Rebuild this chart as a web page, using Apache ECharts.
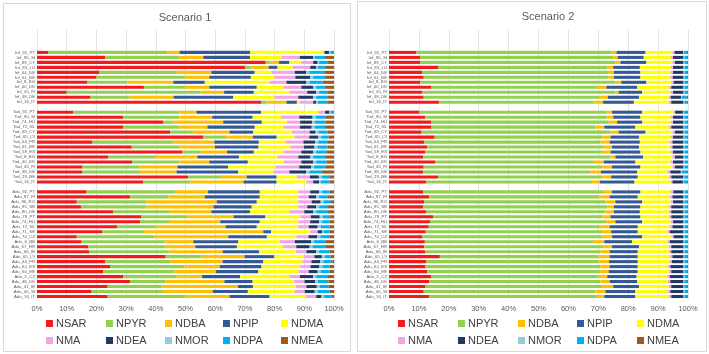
<!DOCTYPE html>
<html>
<head>
<meta charset="utf-8">
<script src="https://cdn.jsdelivr.net/npm/echarts@6/dist/echarts.min.js"></script>
<style>
  html, body { margin: 0; padding: 0; background: #fff; }
  #chart { width: 709px; height: 354px; }
</style>
</head>
<body>
<div id="chart"></div>
<script>
const seriesNames = ['NSAR', 'NPYR', 'NDBA', 'NPIP', 'NDMA', 'NMA', 'NDEA', 'NMOR', 'NDPA', 'NMEA'];
const colors = ['#F21A1A', '#92D050', '#FFC000', '#335A96', '#FFFF00', '#F4A3E8', '#203864', '#92CDDC', '#00B0F0', '#9C5A1E'];

const infCats = ['Inf_92_PT', 'Inf_90_SI', 'Inf_89_CY', 'Inf_83_LU', 'Inf_64_DE', 'Inf_61_EE', 'Inf_8_BG', 'Inf_40_DK', 'Inf_45_FI', 'Inf_38_DE', 'Inf_16_IT'];
const todCats = ['Tod_92_PT', 'Tod_90_SI', 'Tod_74_HU', 'Tod_72_NL', 'Tod_69_CY', 'Tod_65_LV', 'Tod_64_FR', 'Tod_61_EE', 'Tod_59_ES', 'Tod_8_BG', 'Tod_40_DK', 'Tod_45_FI', 'Tod_38_DE', 'Tod_29_BE', 'Tod_16_IT'];
const aduCats = ['Adu_92_PT', 'Adu_87_FI', 'Adu_86_RO', 'Adu_85_SE', 'Adu_80_DE', 'Adu_78_PT', 'Adu_74_HU', 'Adu_72_NL', 'Adu_71_SE', 'Adu_70_CZ', 'Adu_6_BE', 'Adu_67_HR', 'Adu_66_IE', 'Adu_65_LV', 'Adu_64_FR', 'Adu_62_ES', 'Adu_60_EE', 'Adu_5_CZ', 'Adu_48_DK', 'Adu_41_IE', 'Adu_40_SI', 'Adu_16_IT'];

// one row per category, values in seriesNames order (% of total)
const s1Inf = [
  [3.8, 40.2, 4, 23.7, 24.8, 0.3, 1.5, 0.5, 1, 0.2],
  [23, 25, 8, 15.7, 10.7, 6.1, 4.5, 0.5, 3.5, 3],
  [77, 1.5, 3, 3.5, 4, 4, 1.5, 0.5, 3, 2],
  [70, 2, 6, 3, 5, 6, 2, 0.5, 2.5, 3],
  [21, 26, 11.7, 14.6, 5.6, 7.9, 3.9, 1, 5, 3.3],
  [20, 30, 8, 14, 8, 7, 5, 1, 4, 3],
  [17, 13.5, 15.4, 10.6, 21.8, 5.7, 6.7, 1, 4.5, 3.8],
  [36, 14, 8, 16, 9, 6, 4, 1, 3, 3],
  [10, 45, 8, 10, 12, 6, 3, 1, 3, 2],
  [18, 13, 15, 20, 14, 8, 5, 1, 4, 2],
  [75.6, 1.7, 6.7, 3.5, 1, 4.5, 1, 0.5, 3.5, 2]
];
const s1Tod = [
  [12.2, 35.8, 5.7, 21.8, 19.3, 2.2, 1.5, 0.5, 1, 0],
  [29, 19, 11, 13.6, 9.5, 6.2, 4.5, 1, 3.5, 2.7],
  [42.5, 3.5, 16.7, 13, 8.4, 4.5, 4, 1, 3.5, 2.9],
  [29, 19, 9.4, 15.9, 9.6, 5.6, 4, 1, 3.5, 3],
  [44.8, 8, 12, 8, 13, 6, 2, 1, 3, 2.2],
  [56, 7.7, 9, 8, 6, 5, 3, 1, 2.5, 1.8],
  [18.7, 27, 14, 15, 9, 6, 4, 1, 3, 2.3],
  [31.9, 16, 12, 14.7, 10.8, 4.5, 3.5, 1, 3.5, 2.1],
  [49, 6, 9, 9, 10, 6, 4, 1, 3.5, 2.5],
  [24, 16, 14, 14, 13, 7, 4, 1, 4, 3],
  [32, 16, 10, 13, 12, 6, 4, 1, 3.5, 2.5],
  [15.3, 19, 13, 17, 16, 8, 4, 1, 4, 2.7],
  [15.3, 19.4, 12.3, 20.8, 11.8, 5.4, 5.7, 1, 4.3, 4],
  [50.9, 11, 8.7, 10.1, 6.7, 4.5, 3, 1, 2.5, 1.6],
  [35.7, 16, 17.8, 11.2, 10, 2.3, 2, 0.5, 3, 1.5]
];
const s1Adu = [
  [16.7, 29.8, 11.1, 17.4, 13, 4, 3, 1, 2.5, 1.5],
  [31.3, 13, 12.2, 18.5, 13, 3.5, 2.5, 1, 3, 2],
  [13.4, 23.5, 23.6, 13.5, 14, 4.5, 3, 1, 2.5, 1],
  [14.8, 22.1, 22.5, 12.9, 15.7, 3, 3, 1, 3, 2],
  [25.7, 19, 14, 13, 13.3, 5, 3, 1, 4, 2],
  [35.2, 15, 16, 10.7, 11.8, 3.5, 3, 1, 2.5, 1.3],
  [34.7, 10, 17, 13.3, 13, 4, 3, 1, 2.5, 1.5],
  [27, 13, 23.5, 10.5, 14, 3.5, 3, 1, 3, 1.5],
  [22, 14, 40.2, 2.6, 13.2, 2.5, 1.5, 0.5, 2, 1.5],
  [13.4, 26, 25, 13, 10, 4, 3, 1, 3, 1.6],
  [15, 28, 9.6, 15.2, 14, 5, 5.5, 1, 4, 2.7],
  [17.3, 26, 10, 14, 15.5, 4.5, 4.5, 1, 4.5, 2.7],
  [17.5, 27, 18, 12.3, 12.4, 3.5, 3.3, 1, 3.5, 1.5],
  [43.3, 12, 14.6, 10, 10, 3.5, 2.5, 1, 2, 1.1],
  [23, 22, 17.5, 13.7, 13.2, 3, 3, 1, 3, 0.6],
  [24.6, 25, 12, 14, 13, 3.5, 3, 1, 2.5, 1.4],
  [22.3, 24, 14, 14.2, 13.5, 3.5, 3, 1, 3, 1.5],
  [29, 18, 8.6, 12.8, 16.6, 3.5, 4.5, 1, 4, 2],
  [31.3, 12, 19.8, 9.5, 14, 3.5, 3.5, 1, 3.5, 1.9],
  [23.8, 18, 25.9, 5, 14.5, 3.5, 3.5, 1, 3, 1.8],
  [18.4, 24, 16.8, 11.8, 15.7, 3.5, 3.3, 1, 4, 1.5],
  [23.8, 26, 15, 13.5, 12.3, 3.4, 1.7, 1, 2.5, 0.8]
];

const s2Inf = [
  [9.2, 65.2, 1.7, 9.7, 9.0, 0.7, 2.9, 0.3, 1.0, 0.3],
  [10.5, 64.5, 1.5, 8.7, 9.0, 0.8, 3.5, 0.3, 0.9, 0.3],
  [10.5, 65.2, 1.7, 8.7, 8.7, 0.8, 2.9, 0.3, 0.9, 0.3],
  [16.4, 56.6, 2.0, 8.9, 10.3, 0.8, 3.5, 0.3, 0.9, 0.3],
  [11.1, 62.1, 2.0, 8.9, 10.1, 0.8, 3.5, 0.3, 0.9, 0.3],
  [11.6, 61.9, 1.7, 8.9, 9.9, 0.9, 3.6, 0.3, 0.9, 0.3],
  [10.5, 65.2, 2.0, 8.4, 8.3, 0.8, 3.3, 0.3, 0.9, 0.3],
  [14.2, 55.4, 3.1, 10.3, 10.6, 0.8, 4.1, 0.3, 0.9, 0.3],
  [11.2, 64.5, 1.1, 7.9, 9.5, 0.8, 3.5, 0.3, 0.9, 0.3],
  [11.6, 58.9, 2.7, 10.4, 10.0, 0.6, 3.5, 0.3, 1.5, 0.5],
  [16.7, 51.8, 3.1, 10.3, 11.7, 0.8, 4.1, 0.3, 0.9, 0.3]
];
const s2Tod = [
  [10.1, 62.6, 1.9, 10.1, 10.6, 0.4, 2.6, 0.3, 1.1, 0.3],
  [12.1, 60.9, 2.0, 9.1, 10.1, 0.8, 3.5, 0.3, 0.9, 0.3],
  [14.1, 59.4, 2.8, 8.4, 9.5, 0.8, 3.5, 0.3, 0.9, 0.3],
  [14.2, 54.8, 3.0, 10.4, 11.2, 0.8, 4.1, 0.3, 0.9, 0.3],
  [10.9, 63.2, 2.7, 9.0, 9.0, 0.8, 2.9, 0.3, 0.9, 0.3],
  [15.3, 56.0, 2.8, 9.5, 10.6, 0.8, 3.5, 0.3, 0.9, 0.3],
  [11.8, 58.9, 3.1, 10.1, 10.1, 0.8, 3.7, 0.3, 0.9, 0.3],
  [12.8, 58.8, 3.0, 9.0, 10.4, 0.8, 3.7, 0.3, 0.9, 0.3],
  [12.1, 59.2, 2.8, 10.0, 10.1, 0.8, 3.5, 0.3, 0.9, 0.3],
  [11.4, 62.7, 1.6, 9.3, 9.8, 0.8, 2.9, 0.3, 0.9, 0.3],
  [15.4, 53.1, 3.3, 10.6, 11.8, 0.8, 3.5, 0.3, 0.9, 0.3],
  [11.6, 59.7, 3.3, 9.5, 10.7, 0.8, 2.9, 0.3, 0.9, 0.3],
  [11.4, 55.9, 3.6, 12.1, 10.1, 1.0, 3.5, 0.3, 1.8, 0.3],
  [16.4, 54.9, 3.0, 8.9, 10.4, 0.8, 4.1, 0.3, 0.9, 0.3],
  [12.5, 55.4, 2.6, 11.6, 12.1, 0.6, 3.5, 0.3, 1.1, 0.3]
];
const s2Adu = [
  [11.4, 60.4, 2.8, 9.5, 10.1, 0.9, 3.4, 0.3, 0.9, 0.3],
  [13.5, 56.6, 3.7, 9.4, 10.8, 0.8, 3.7, 0.3, 0.9, 0.3],
  [11.8, 60.6, 3.3, 9.0, 9.5, 0.8, 3.5, 0.3, 0.9, 0.3],
  [11.4, 61.6, 2.2, 8.9, 9.5, 0.8, 4.1, 0.3, 0.9, 0.3],
  [12.5, 59.9, 2.8, 8.7, 9.7, 0.8, 4.1, 0.3, 0.9, 0.3],
  [14.8, 56.5, 2.8, 10.0, 9.5, 0.8, 4.1, 0.3, 0.9, 0.3],
  [13.7, 59.0, 3.0, 9.0, 9.5, 0.8, 3.5, 0.3, 0.9, 0.3],
  [13.3, 57.2, 3.3, 9.4, 10.8, 0.8, 3.7, 0.3, 0.9, 0.3],
  [12.3, 59.0, 3.0, 8.9, 9.9, 0.8, 4.6, 0.3, 0.9, 0.3],
  [11.2, 60.1, 3.3, 10.1, 9.7, 0.8, 3.3, 0.3, 0.9, 0.3],
  [12.0, 56.5, 3.5, 9.3, 11.8, 0.8, 4.6, 0.3, 0.9, 0.3],
  [11.8, 60.0, 2.8, 9.0, 10.0, 0.8, 4.1, 0.3, 0.9, 0.3],
  [12.2, 58.5, 3.1, 9.4, 10.4, 0.8, 4.1, 0.3, 0.9, 0.3],
  [17.0, 53.1, 3.7, 9.4, 10.8, 0.8, 3.7, 0.3, 0.9, 0.3],
  [12.5, 57.6, 3.5, 9.6, 10.6, 0.8, 3.9, 0.3, 0.9, 0.3],
  [12.2, 58.5, 3.1, 9.4, 10.1, 0.8, 4.4, 0.3, 0.9, 0.3],
  [12.8, 57.7, 3.0, 9.7, 10.4, 0.8, 4.1, 0.3, 0.9, 0.3],
  [14.2, 55.4, 3.4, 9.8, 10.3, 0.8, 4.6, 0.3, 0.9, 0.3],
  [13.4, 57.3, 3.1, 9.2, 10.3, 0.8, 4.4, 0.3, 0.9, 0.3],
  [12.2, 59.1, 3.7, 8.6, 10.0, 0.8, 4.1, 0.3, 0.9, 0.3],
  [11.6, 57.4, 3.4, 10.0, 10.9, 0.8, 4.4, 0.3, 0.9, 0.3],
  [13.4, 56.2, 2.4, 10.4, 11.2, 0.8, 4.1, 0.3, 0.9, 0.3]
];

// blank slots: 4 on top, one between groups
const blank = n => Array.from({ length: n }, () => null);
const categories = [
  '_a', '_b', '_c', '_d', ...infCats, '_e', ...todCats, '_f', ...aduCats
];
const rowsFor = (inf, tod, adu) => [...blank(4), ...inf, null, ...tod, null, ...adu];
const rows1 = rowsFor(s1Inf, s1Tod, s1Adu);
const rows2 = rowsFor(s2Inf, s2Tod, s2Adu);

const font = 'Liberation Sans';
const grey = '#595959';

const makeSeries = (rows, idx) =>
  seriesNames.map((name, k) => ({
    name,
    type: 'bar',
    stack: 'sc' + idx,
    xAxisIndex: idx,
    yAxisIndex: idx,
    barWidth: '62%',
    itemStyle: { color: colors[k] },
    emphasis: { disabled: true },
    data: rows.map(r => (r ? r[k] : '-'))
  }));

const xAxisFor = idx => ({
  type: 'value',
  gridIndex: idx,
  min: 0,
  max: 100,
  interval: 10,
  axisLine: { show: false },
  axisTick: { show: false },
  splitLine: { lineStyle: { color: '#e3e3e3', width: 1 } },
  axisLabel: {
    formatter: '{value}%',
    color: grey,
    fontSize: 7.5,
    fontFamily: font,
    margin: 6
  }
});

const yAxisFor = idx => ({
  type: 'category',
  gridIndex: idx,
  inverse: true,
  data: categories,
  axisLine: { show: false },
  axisTick: { show: false },
  axisLabel: {
    interval: 0,
    fontSize: 4.3,
    color: grey,
    fontFamily: font,
    margin: 2,
    formatter: v => (v.charAt(0) === '_' ? '' : v)
  }
});

// legend: one box per item, laid out as in the reference
const legendCols = [[46, 106, 165, 223, 281], [398, 458, 518, 577, 637]];
const legendRows = [318, 335];
const legends = [];
legendCols.forEach(cols => {
  seriesNames.forEach((name, k) => {
    legends.push({
      data: [name],
      left: cols[k % 5],
      top: legendRows[Math.floor(k / 5)],
      padding: 0,
      icon: 'rect',
      itemWidth: 7,
      itemHeight: 7,
      selectedMode: false,
      textStyle: { fontSize: 11, color: '#404040', fontFamily: font, padding: [0, 0, 0, -2] }
    });
  });
});

const chart = echarts.init(document.getElementById('chart'));
chart.setOption({
  animation: false,
  backgroundColor: '#fff',
  title: [
    { text: 'Scenario 1', left: 180, top: 7, textAlign: 'center',
      textStyle: { fontSize: 11, fontWeight: 'normal', color: grey, fontFamily: font } },
    { text: 'Scenario 2', left: 543, top: 6, textAlign: 'center',
      textStyle: { fontSize: 11, fontWeight: 'normal', color: grey, fontFamily: font } }
  ],
  graphic: [
    { type: 'rect', shape: { x: 3.5, y: 3.5, width: 347, height: 348 },
      style: { fill: 'none', stroke: '#d9d9d9', lineWidth: 1 }, silent: true },
    { type: 'rect', shape: { x: 357.5, y: 1.5, width: 349, height: 350 },
      style: { fill: 'none', stroke: '#d9d9d9', lineWidth: 1 }, silent: true }
  ],
  legend: legends,
  grid: [
    { left: 37, right: 375, top: 30, bottom: 55 },
    { left: 389, right: 21, top: 30, bottom: 55 }
  ],
  xAxis: [xAxisFor(0), xAxisFor(1)],
  yAxis: [yAxisFor(0), yAxisFor(1)],
  series: [...makeSeries(rows1, 0), ...makeSeries(rows2, 1)]
});
</script>
</body>
</html>
